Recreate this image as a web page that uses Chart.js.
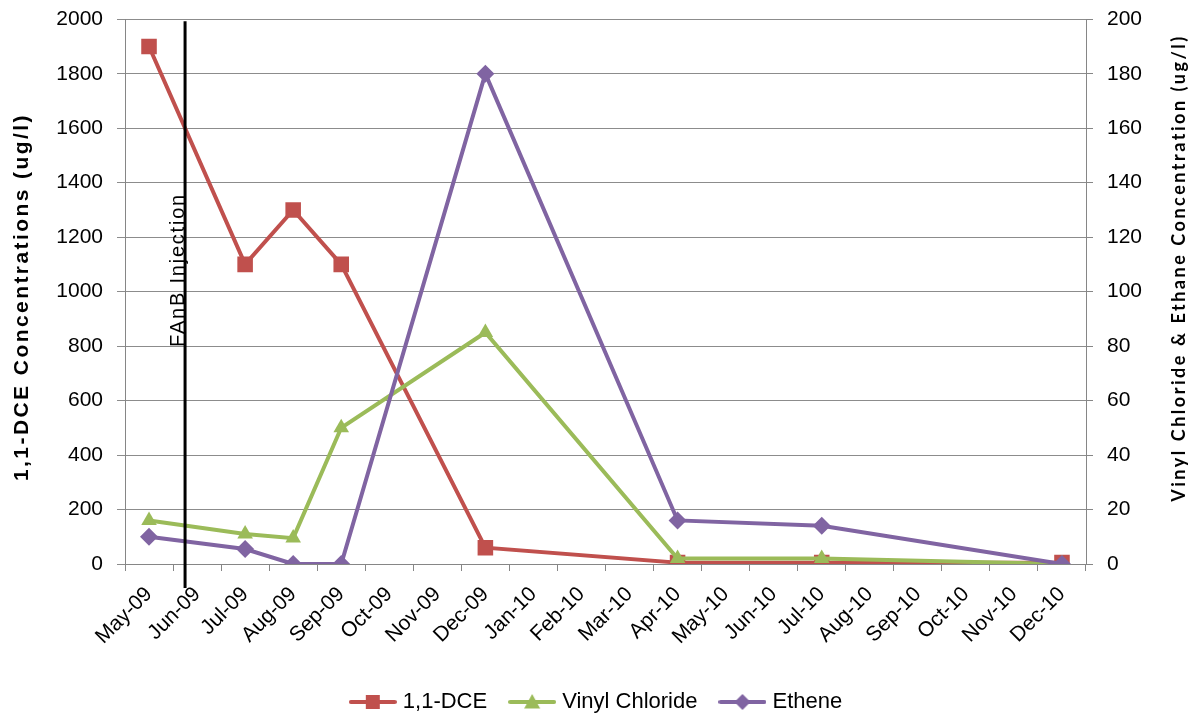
<!DOCTYPE html>
<html>
<head>
<meta charset="utf-8">
<script src="https://cdn.jsdelivr.net/npm/chart.js@4.4.1/dist/chart.umd.min.js"></script>
<style>
  html, body { margin: 0; padding: 0; background: #fff; }
  #wrap { width: 1196px; height: 713px; }
</style>
</head>
<body>
<div id="wrap"><canvas id="chart"></canvas></div>
<script>
// Monthly axis slots
const months = ['May-09', 'Jun-09', 'Jul-09', 'Aug-09', 'Sep-09', 'Oct-09', 'Nov-09', 'Dec-09',
    'Jan-10', 'Feb-10', 'Mar-10', 'Apr-10', 'May-10', 'Jun-10', 'Jul-10', 'Aug-10',
    'Sep-10', 'Oct-10', 'Nov-10', 'Dec-10'];

// Sampling events
const sampleMonths = ['May-09', 'Jul-09', 'Aug-09', 'Sep-09', 'Dec-09', 'Apr-10', 'Jul-10', 'Dec-10'];
const dce = [1900, 1100, 1300, 1100, 60, 5, 5, 5];
const vinylChloride = [16, 11, 9.5, 50, 85, 2, 2, 0];
const ethene = [10, 5.5, 0, 0, 180, 16, 14, 0];

const leftTicks = [0, 200, 400, 600, 800, 1000, 1200, 1400, 1600, 1800, 2000];
const rightTicks = [0, 20, 40, 60, 80, 100, 120, 140, 160, 180, 200];

const leftTitle = '1,1-DCE Concentrations (ug/l)';
const rightTitle = 'Vinyl Chloride & Ethane Concentration (ug/l)';

// injection happened part way between the May-09 and Jun-09 samples
const injectionAt = 0.75;
const injectionLabel = 'FAnB Injection';

const RED = '#C0504D', GREEN = '#9BBB59', PURPLE = '#8064A2';
const FONT = "'Liberation Sans', Arial, sans-serif";

const toPoints = vals => sampleMonths.map((m, i) => ({ x: m, y: vals[i] }));

// draw text centred at 0,0 and spread out to a given length
function fitText(ctx, text, length) {
    const w = ctx.measureText(text).width;
    if ('letterSpacing' in ctx) {
        ctx.letterSpacing = ((length - w) / text.length) + 'px';
        const w2 = ctx.measureText(text).width;
        ctx.textAlign = 'left';
        ctx.fillText(text, -w2 / 2, 0);
        ctx.letterSpacing = '0px';
    } else {
        ctx.scale(length / w, 1);
        ctx.textAlign = 'center';
        ctx.fillText(text, 0, 0);
    }
}

// legend icon: line with marker, like the Excel legend
function legendIcon(color, style, r) {
    const c = document.createElement('canvas');
    c.width = 48; c.height = 22;
    const ctx = c.getContext('2d');
    ctx.strokeStyle = color;
    ctx.lineWidth = 4;
    ctx.lineCap = 'round';
    ctx.beginPath();
    ctx.moveTo(2, 11); ctx.lineTo(46, 11);
    ctx.stroke();
    ctx.fillStyle = color;
    ctx.beginPath();
    if (style === 'rect') {
        ctx.rect(24 - r, 11 - r, r * 2, r * 2);
    } else if (style === 'triangle') {
        ctx.moveTo(24, 11 - r); ctx.lineTo(24 + r, 11 + r * 0.8); ctx.lineTo(24 - r, 11 + r * 0.8);
    } else {
        ctx.moveTo(24, 11 - r); ctx.lineTo(24 + r, 11); ctx.lineTo(24, 11 + r); ctx.lineTo(24 - r, 11);
    }
    ctx.closePath();
    ctx.fill();
    return c;
}

const annotations = {
    id: 'annotations',
    afterDatasetsDraw(chart) {
        const x = chart.scales.x.getPixelForValue(injectionAt);
        const area = chart.chartArea;
        const ctx = chart.ctx;
        ctx.save();
        ctx.strokeStyle = '#000';
        ctx.lineWidth = 3;
        ctx.beginPath();
        ctx.moveTo(x, area.top + 2);
        ctx.lineTo(x, area.bottom + 24);
        ctx.stroke();
        ctx.fillStyle = '#000';
        ctx.textBaseline = 'alphabetic';
        ctx.save();
        ctx.translate(x - 1, 270);
        ctx.rotate(-Math.PI / 2);
        ctx.font = '20px ' + FONT;
        fitText(ctx, injectionLabel, 154);
        ctx.restore();
        ctx.restore();
    },
    afterDraw(chart) {
        const ctx = chart.ctx;
        ctx.save();
        ctx.fillStyle = '#000';
        ctx.textBaseline = 'middle';
        ctx.save();
        ctx.translate(22, 297);
        ctx.rotate(-Math.PI / 2);
        ctx.font = 'bold 21px ' + FONT;
        fitText(ctx, leftTitle, 368);
        ctx.restore();
        ctx.save();
        ctx.translate(1179, 268);
        ctx.rotate(-Math.PI / 2);
        ctx.font = "bold 18px Lato, 'Open Sans', sans-serif";
        fitText(ctx, rightTitle, 468);
        ctx.restore();
        ctx.restore();
    }
};

const icons = [legendIcon(RED, 'rect', 7), legendIcon(GREEN, 'triangle', 8), legendIcon(PURPLE, 'rectRot', 8)];
const tickFont = { family: FONT, size: 21 };
// y labels: small line height so the top overhang does not push the plot down
const yTickFont = { family: FONT, size: 21, lineHeight: 0.5 };

new Chart(document.getElementById('chart'), {
    type: 'line',
    data: {
        labels: months,
        datasets: [
            {
                label: '1,1-DCE',
                data: toPoints(dce),
                yAxisID: 'y',
                borderColor: RED,
                backgroundColor: RED,
                borderWidth: 4,
                pointStyle: 'rect',
                pointRadius: 11,
                pointBorderWidth: 0,
                order: 3
            },
            {
                label: 'Vinyl Chloride',
                data: toPoints(vinylChloride),
                yAxisID: 'y1',
                borderColor: GREEN,
                backgroundColor: GREEN,
                borderWidth: 4,
                pointStyle: 'triangle',
                pointRadius: 9,
                pointBorderWidth: 0,
                order: 2
            },
            {
                label: 'Ethene',
                data: toPoints(ethene),
                yAxisID: 'y1',
                borderColor: PURPLE,
                backgroundColor: PURPLE,
                borderWidth: 4,
                pointStyle: 'rectRot',
                pointRadius: 9,
                pointBorderWidth: 0,
                order: 1
            }
        ]
    },
    options: {
        responsive: true,
        maintainAspectRatio: false,
        animation: false,
        layout: { padding: { top: 14, right: 0, bottom: -10, left: 0 } },
        plugins: {
            tooltip: { enabled: false },
            legend: {
                position: 'bottom',
                labels: {
                    usePointStyle: true,
                    pointStyleWidth: 38,
                    color: '#000',
                    font: { family: FONT, size: 22 },
                    padding: 26,
                    generateLabels: chart => chart.data.datasets.map((ds, i) => ({
                        text: ds.label,
                        datasetIndex: i,
                        pointStyle: icons[i],
                        fillStyle: ds.borderColor,
                        strokeStyle: ds.borderColor,
                        lineWidth: 0,
                        fontColor: '#000',
                        hidden: false
                    }))
                }
            }
        },
        scales: {
            x: {
                type: 'category',
                offset: true,
                afterFit: s => { s.height = 101; },
                grid: { offset: true, drawOnChartArea: false, tickLength: 7, color: '#868686' },
                border: { color: '#868686' },
                ticks: {
                    autoSkip: false,
                    maxRotation: 45,
                    minRotation: 45,
                    color: '#000',
                    padding: 11,
                    font: tickFont
                }
            },
            y: {
                position: 'left',
                min: 0,
                max: 2000,
                afterBuildTicks: s => { s.ticks = leftTicks.map(v => ({ value: v })); },
                afterFit: s => { s.width = 125; },
                grid: { color: '#8c8c8c', tickLength: 8 },
                border: { color: '#868686' },
                ticks: { color: '#000', padding: 14, font: yTickFont, callback: v => String(v) }
            },
            y1: {
                position: 'right',
                min: 0,
                max: 200,
                afterBuildTicks: s => { s.ticks = rightTicks.map(v => ({ value: v })); },
                afterFit: s => { s.width = 110; },
                grid: { drawOnChartArea: false, tickLength: 7, color: '#868686' },
                border: { color: '#868686' },
                ticks: { color: '#000', padding: 14, font: yTickFont, callback: v => String(v) }
            }
        }
    },
    plugins: [annotations]
});
</script>
</body>
</html>
